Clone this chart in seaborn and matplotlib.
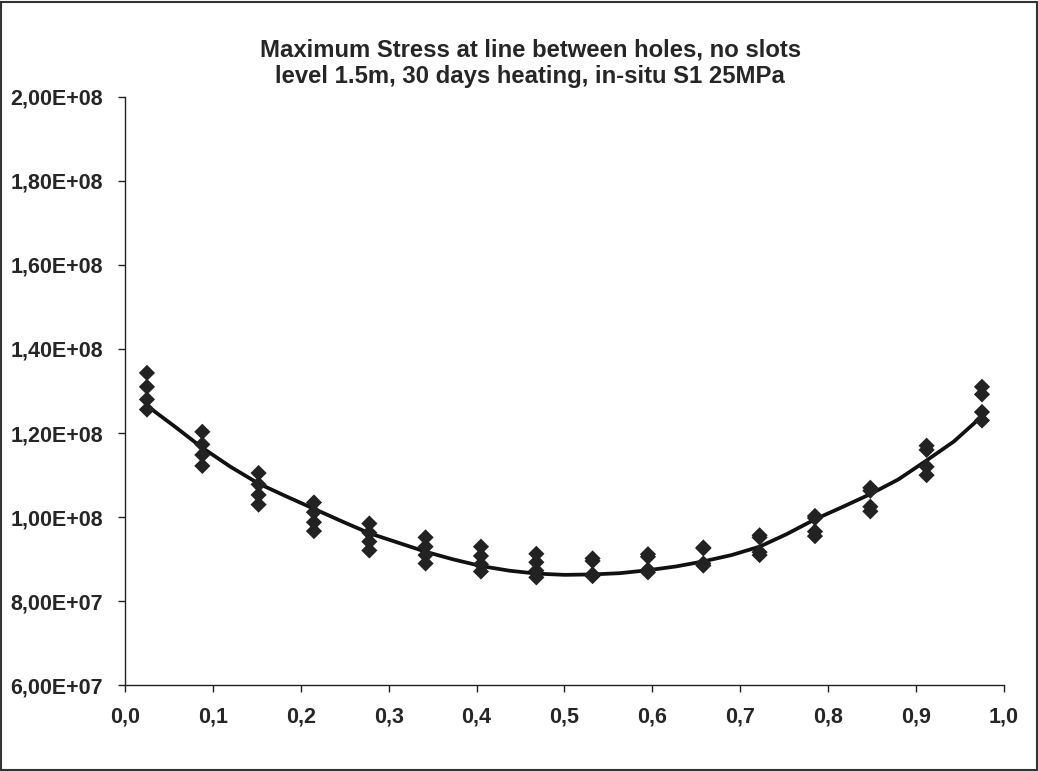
import numpy as np
import pandas as pd
import seaborn as sns
import matplotlib
matplotlib.use("Agg")
from matplotlib import pyplot as plt
from matplotlib.patches import Rectangle
from matplotlib.ticker import FuncFormatter, MultipleLocator

# positions along the line between holes (relative)
x_pos = [0.025, 0.088, 0.152, 0.215, 0.278, 0.342, 0.405, 0.468,
         0.532, 0.595, 0.658, 0.722, 0.785, 0.848, 0.912, 0.975]

# four stress readings at each position (Pa), top to bottom
stress_a = [1.343e8, 1.203e8, 1.105e8, 1.035e8, 0.985e8, 0.952e8, 0.930e8, 0.913e8,
            0.902e8, 0.912e8, 0.928e8, 0.957e8, 1.003e8, 1.070e8, 1.170e8, 1.310e8]
stress_b = [1.310e8, 1.173e8, 1.078e8, 1.012e8, 0.963e8, 0.930e8, 0.908e8, 0.893e8,
            0.896e8, 0.906e8, 0.926e8, 0.952e8, 0.998e8, 1.063e8, 1.160e8, 1.292e8]
stress_c = [1.280e8, 1.148e8, 1.053e8, 0.988e8, 0.942e8, 0.910e8, 0.888e8, 0.873e8,
            0.864e8, 0.875e8, 0.890e8, 0.917e8, 0.966e8, 1.025e8, 1.120e8, 1.250e8]
stress_d = [1.256e8, 1.122e8, 1.030e8, 0.967e8, 0.921e8, 0.890e8, 0.871e8, 0.857e8,
            0.860e8, 0.869e8, 0.885e8, 0.910e8, 0.955e8, 1.014e8, 1.100e8, 1.230e8]

# trend line
line_x = [0.025, 0.057, 0.088, 0.120, 0.152, 0.183, 0.215, 0.247, 0.278, 0.310,
          0.342, 0.373, 0.405, 0.437, 0.468, 0.500, 0.532, 0.563, 0.595, 0.627,
          0.658, 0.690, 0.722, 0.753, 0.785, 0.817, 0.848, 0.880, 0.912, 0.943, 0.975]
line_y = [1.265e8, 1.215e8, 1.165e8, 1.120e8, 1.080e8, 1.050e8, 1.020e8, 0.990e8,
          0.962e8, 0.940e8, 0.918e8, 0.900e8, 0.884e8, 0.873e8, 0.866e8, 0.863e8,
          0.864e8, 0.867e8, 0.874e8, 0.883e8, 0.895e8, 0.910e8, 0.930e8, 0.960e8,
          0.995e8, 1.025e8, 1.055e8, 1.090e8, 1.135e8, 1.180e8, 1.240e8]

title_txt = "Maximum Stress at line between holes, no slots\nlevel 1.5m, 30 days heating, in-situ S1 25MPa"

sns.set_style("white")
plt.rcParams["font.family"] = ["Liberation Sans", "DejaVu Sans"]
plt.rcParams["font.weight"] = "bold"

pts = pd.DataFrame({
    "x": x_pos * 4,
    "stress": stress_a + stress_b + stress_c + stress_d,
})
trend = pd.DataFrame({"x": line_x, "stress": line_y})

fig = plt.figure(figsize=(10.38, 7.71), dpi=100)
ax = fig.add_axes([0.1204, 0.1109, 0.8468, 0.7639])

sns.lineplot(data=trend, x="x", y="stress", ax=ax, color="#111111", linewidth=2.7)
sns.scatterplot(data=pts, x="x", y="stress", ax=ax, marker="D", s=68,
                color="#222222", edgecolor="none", zorder=3)

ax.set_xlim(0, 1.0)
ax.set_ylim(6e7, 2e8)
ax.xaxis.set_major_locator(MultipleLocator(0.1))
ax.yaxis.set_major_locator(MultipleLocator(2e7))
ax.xaxis.set_major_formatter(FuncFormatter(lambda v, p: f"{v:.1f}".replace(".", ",")))
ax.yaxis.set_major_formatter(FuncFormatter(lambda v, p: f"{v:.2E}".replace(".", ",")))
ax.set_xlabel("")
ax.set_ylabel("")

for s in ["top", "right"]:
    ax.spines[s].set_visible(False)
for s in ["left", "bottom"]:
    ax.spines[s].set_color("#222222")
    ax.spines[s].set_linewidth(1.0)

ax.tick_params(axis="both", direction="out", length=5, width=1, color="#222222",
               labelsize=15.5, left=True, bottom=True)
ax.tick_params(axis="x", pad=10)
ax.tick_params(axis="y", pad=11)
for lab in ax.get_xticklabels() + ax.get_yticklabels():
    lab.set_fontweight("bold")

fig.text(0.511, 0.918, title_txt, ha="center", va="center", fontsize=17.2,
         fontweight="bold", linespacing=1.15)

# chart border like the spreadsheet chart area
fig.patches.append(Rectangle((0.001, 0.001), 0.998, 0.997, transform=fig.transFigure,
                             fill=False, edgecolor="#333333", linewidth=1.5))

fig.savefig("out.png", dpi=100, facecolor="white")
